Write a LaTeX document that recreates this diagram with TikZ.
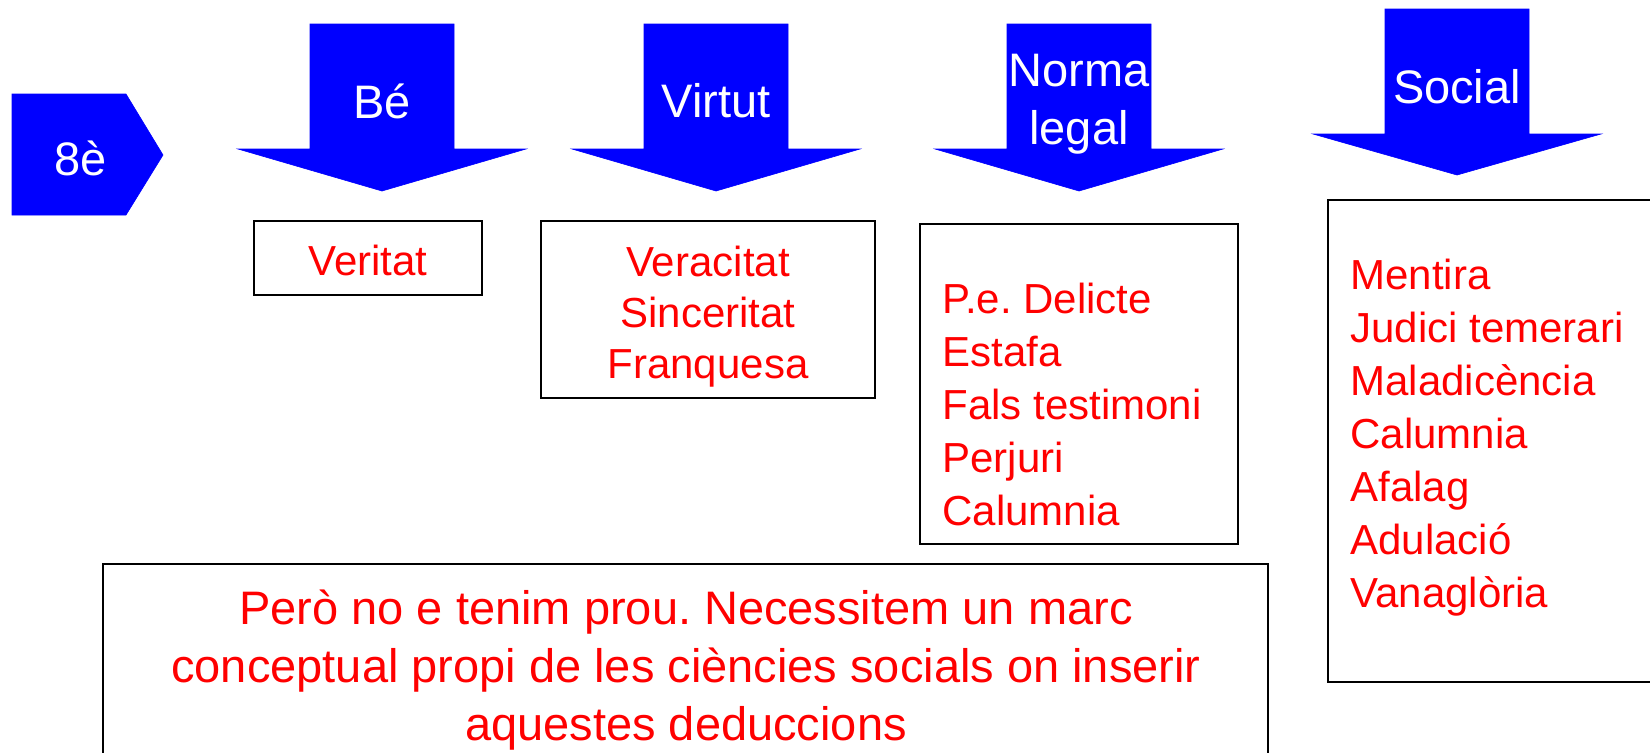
\documentclass[tikz,border=0pt]{standalone}
\usepackage{fontspec}
\setmainfont{Liberation Sans}
\usetikzlibrary{positioning}
\frenchspacing

\definecolor{pureblue}{RGB}{0,0,255}
\definecolor{purered}{RGB}{255,0,0}

\tikzset{
    blk/.style={fill=pureblue, draw=pureblue, line width=0.3pt},
    lbl/.style={text=white, font=\fontsize{23.5}{29}\selectfont, align=center, inner sep=0pt},
    frame/.style={draw=black, line width=1pt},
    item/.style={text=purered, font=\fontsize{21}{26.5}\selectfont, inner sep=0pt},
}

\begin{document}
\begin{tikzpicture}[x=0.5pt, y=-0.5pt]
            \clip (0,0) rectangle (1650,752);
            % 8è
            \fill[blk] (12,94) -- (126,94) -- (163,155) -- (126,215) -- (12,215) -- cycle;
            \node[lbl] (vuite) at (81,158) {8è};
            % block arrows
            \foreach \cx/\ytop/\ybase/\ytip in {382/24/149/191, 716/24/149/191,
                1079/24/149/191, 1457/9/134/175}
                \fill[blk] (\cx-72,\ytop) -- (\cx+72,\ytop) -- (\cx+72,\ybase)
                    -- (\cx+144,\ybase) -- (\cx,\ytip) -- (\cx-144,\ybase)
                    -- (\cx-72,\ybase) -- cycle;
            \node[lbl] (be) at (382,101) {Bé};
            \node[lbl] (virtut) at (716,101) {Virtut};
            \node[lbl] (norma) at (1079,104) {Norma\\legal};
            \node[lbl] (social) at (1457,87) {Social};
            % boxes
            \draw[frame] (254,221) rectangle (482,295);
            \node[item] (veritat) at (368,260) {Veritat};
            \draw[frame] (541,221) rectangle (875,398);
            \node[item, align=center, font=\fontsize{21}{25.5}\selectfont] (virtuts) at (708,317)
                {Veracitat\\Sinceritat\\Franquesa};
            \draw[frame] (920,224) rectangle (1238,544);
            \node[item, align=left, anchor=west] (delictes) at (942,404)
                {P.e. Delicte\\Estafa\\Fals testimoni\\Perjuri\\Calumnia};
            \draw[frame] (1328,200) rectangle (1660,682);
            \node[item, align=left, anchor=west] (vicis) at (1350,438)
                {Mentira\\Judici temerari\\Maladicència\\Calumnia\\Afalag\\Adulació\\Vanaglòria};
            \draw[frame] (103,564) rectangle (1268,770);
            \node[item, align=center, font=\fontsize{23.5}{29}\selectfont] (marc) at (686,670)
                {Però no e tenim prou. Necessitem un marc\\conceptual propi de les ciències socials on inserir\\aquestes deduccions};
        \end{tikzpicture}
\end{document}
